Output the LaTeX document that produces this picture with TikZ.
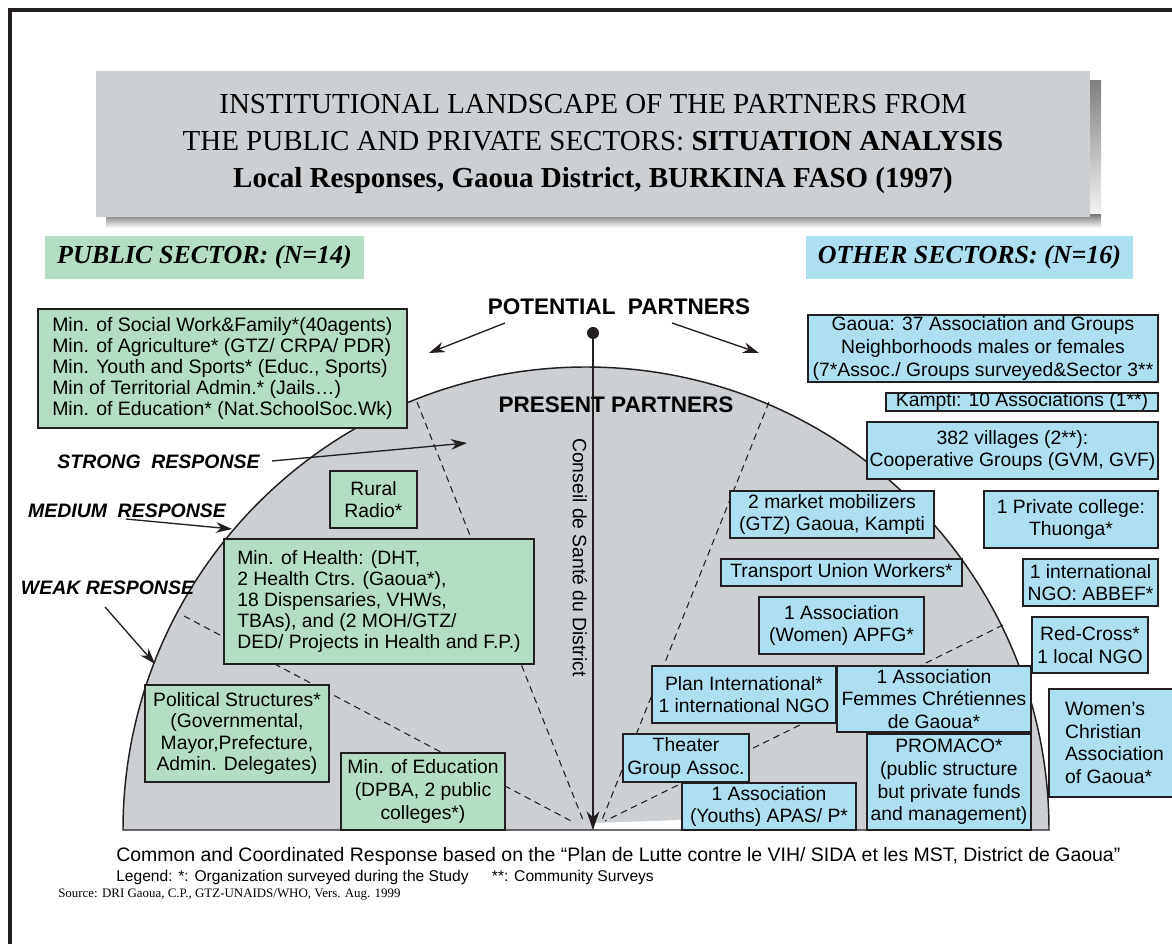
\documentclass[tikz,border=0pt]{standalone}
\usepackage{fontspec}
\setmainfont{Liberation Serif}
\setsansfont{Liberation Sans}
\usetikzlibrary{arrows.meta}
\definecolor{boxgreen}{RGB}{180,221,195}
\definecolor{boxblue}{RGB}{172,224,241}
\definecolor{paleg}{RGB}{204,208,211}
\definecolor{shade}{RGB}{122,128,134}
\definecolor{ink}{RGB}{35,31,32}
\begin{document}
\begin{tikzpicture}[x=0.75pt,y=-0.75pt,
  wh/.style 2 args={minimum width=#1*0.75pt, minimum height=#2*0.75pt},
  boxtxt/.style={font=\sffamily\fontsize{14.5}{17}\selectfont},
  pbox/.style={draw=ink, line width=1.1pt, fill=boxgreen, inner sep=0pt, align=center, boxtxt},
  obox/.style={pbox, fill=boxblue},
  sector/.style={inner sep=0pt, font=\fontsize{19.5}{22}\selectfont\bfseries\itshape},
  resp/.style={inner sep=0pt, font=\sffamily\bfseries\itshape\fontsize{14.6}{17}\selectfont},
  partners/.style={inner sep=0pt, font=\sffamily\bfseries\fontsize{16.9}{20}\selectfont},
  dline/.style={draw=ink, line width=0.8pt, dash pattern=on 5pt off 3.5pt},
  arr/.style={draw=ink, line width=1pt, -{Stealth[length=12pt,width=8pt]}}]
\useasboundingbox (0,0) rectangle (1172,944);

% outer frame
\draw[ink, line width=2.3pt] (10,1000) -- (10,10) -- (1250,10);

% title with shadow
\fill[shade] (1088,81) rectangle (1101,228);
\fill[shade] (106,215) rectangle (1101,228);
\node[fill=paleg, wh={994}{146}, inner sep=0pt, outer sep=0pt, align=center,
  font=\fontsize{21.75}{27.75}\selectfont] (title) at (593,144)
  {INSTITUTIONAL LANDSCAPE OF THE PARTNERS FROM\\
   THE PUBLIC AND PRIVATE SECTORS: \textbf{SITUATION ANALYSIS}\\
   \textbf{Local Responses, Gaoua District, BURKINA FASO (1997)}};

% sector labels
\node[sector, fill=boxgreen, wh={319}{43}] (pub) at (204.5,257.5) {PUBLIC SECTOR: (N=14)};
\node[sector, fill=boxblue, wh={327}{43}] (oth) at (969.5,257.5) {OTHER SECTORS: (N=16)};

% semicircle
\filldraw[fill=paleg, draw=ink, line width=1.1pt] (123,830) arc[start angle=180, end angle=0, radius=347.25pt] -- cycle;
\fill[white] (594,823) -- (682,820) -- (682,829.2) -- (594,829.2) -- cycle;

% dashed sector lines
\draw[dline] (417,402) -- (583,820);
\draw[dline] (184,616) -- (573,822);
\draw[dline] (769,402) -- (602,820);
\draw[dline] (1003,625) -- (605,821);

% central axis
\node[circle, fill=ink, inner sep=0pt, minimum size=9pt] (dot) at (593,333) {};
\coordinate (base) at (593,830);
\draw[draw=ink, line width=1pt, -{Stealth[length=14pt,width=9.5pt]}] (dot.center) -- (base);
\node[rotate=-90, inner sep=0pt, boxtxt] (conseil) at (580,557.5) {Conseil de Santé du District};

% headings
\node[partners] (pot) at (619,307) {POTENTIAL\hspace{0.55em}PARTNERS};
\node[partners] (pres) at (616,405) {PRESENT PARTNERS};
\coordinate (potLs) at (505,323);
\coordinate (potLt) at (429,353);
\coordinate (potRs) at (672,323);
\coordinate (potRt) at (759,353);
\draw[arr] (potLs) -- (potLt);
\draw[arr] (potRs) -- (potRt);

% response labels
\node[resp] (strong) at (158.5,462) {STRONG\hspace{0.55em}RESPONSE};
\node[resp] (medium) at (127,511) {MEDIUM\hspace{0.55em}RESPONSE};
\node[resp] (weak) at (107.5,588) {WEAK RESPONSE};
\coordinate (strongS) at (272,461);
\coordinate (strongT) at (467,443);
\coordinate (mediumS) at (126,519);
\coordinate (mediumT) at (232,529);
\coordinate (weakS) at (105,607);
\coordinate (weakT) at (155,664);
\draw[arr] (strongS) -- (strongT);
\draw[arr] (mediumS) -- (mediumT);
\draw[arr] (weakS) -- (weakT);

% public sector boxes
\node[pbox, wh={369}{119}, align=left, font=\sffamily\fontsize{14.6}{15.75}\selectfont] (mins) at (222.5,368.5)
  {Min. of Social Work\&Family*(40agents)\\
   Min. of Agriculture* (GTZ/ CRPA/ PDR)\\
   Min. Youth and Sports* (Educ., Sports)\\
   Min of Territorial Admin.* (Jails…)\\
   Min. of Education* (Nat.SchoolSoc.Wk)};
\node[pbox, wh={87}{57}] (radio) at (373.5,499.5) {Rural\\Radio*};
\node[pbox, wh={310}{125}, align=left, font=\sffamily\fontsize{14.5}{15.75}\selectfont] (health) at (379,601.5)
  {Min. of Health: (DHT,\\
   2 Health Ctrs. (Gaoua*),\\
   18 Dispensaries, VHWs,\\
   TBAs), and (2 MOH/GTZ/\\
   DED/ Projects in Health and F.P.)};
\node[pbox, wh={184}{97}, font=\sffamily\fontsize{14.5}{16}\selectfont] (polit) at (237,733.5)
  {Political Structures*\\(Governmental,\\Mayor,Prefecture,\\Admin. Delegates)};
\node[pbox, wh={164}{77}] (mined) at (423,791.5) {Min. of Education\\(DPBA, 2 public\\colleges*)};

% other sector boxes
\node[obox, wh={350}{67}] (gaoua) at (983,348.5)
  {Gaoua: 37 Association and Groups\\Neighborhoods males or females\\(7*Assoc./ Groups surveyed\&Sector 3**};
\node[obox, wh={272}{18}] (kampti) at (1022,402) {Kampti: 10 Associations (1**)};
\node[obox, wh={291}{57}] (villages) at (1012.5,450.5) {382 villages (2**):\\Cooperative Groups (GVM, GVF)};
\node[obox, wh={204}{47}] (market) at (832,514.5) {2 market mobilizers\\(GTZ) Gaoua, Kampti};
\node[obox, wh={174}{57}] (college) at (1071,519.5) {1 Private college:\\Thuonga*};
\node[obox, wh={241}{27}] (transport) at (841.5,572.5) {Transport Union Workers*};
\node[obox, wh={135}{47}] (abbef) at (1090.5,582.5) {1 international\\NGO: ABBEF*};
\node[obox, wh={165}{57}] (apfg) at (841.5,625.5) {1 Association\\(Women) APFG*};
\node[obox, wh={116}{56}] (redcross) at (1090,645) {Red-Cross*\\1 local NGO};
\node[obox, wh={184}{57}] (plan) at (744,694.5) {Plan International*\\1 international NGO};
\node[obox, wh={194}{66}] (femmes) at (934,699) {1 Association\\Femmes Chrétiennes\\de Gaoua*};
\node[obox, wh={131}{108}, align=left] (womens) at (1114.5,743) {Women’s\\Christian\\Association\\of Gaoua*};
\node[obox, wh={126}{48}] (theater) at (686,758) {Theater\\Group Assoc.};
\node[obox, wh={164}{96}] (promaco) at (949,782) {PROMACO*\\(public structure\\but private funds\\and management)};
\node[obox, wh={174}{47}] (youths) at (769,806.5) {1 Association\\(Youths) APAS/ P*};

% bottom texts
\node[anchor=west, inner sep=0pt, font=\sffamily\fontsize{14.6}{16}\selectfont] (common) at (116,856)
  {Common and Coordinated Response based on the “Plan de Lutte contre le VIH/ SIDA et les MST, District de Gaoua”};
\node[anchor=west, inner sep=0pt, font=\sffamily\fontsize{11.7}{13}\selectfont] (legend) at (116,877)
  {Legend: *: Organization surveyed during the Study\hspace{1.5em}**: Community Surveys};
\node[anchor=west, inner sep=0pt, font=\fontsize{9.7}{11}\selectfont] (source) at (58,895)
  {Source: DRI Gaoua, C.P., GTZ-UNAIDS/WHO, Vers. Aug. 1999};
\end{tikzpicture}
\end{document}
